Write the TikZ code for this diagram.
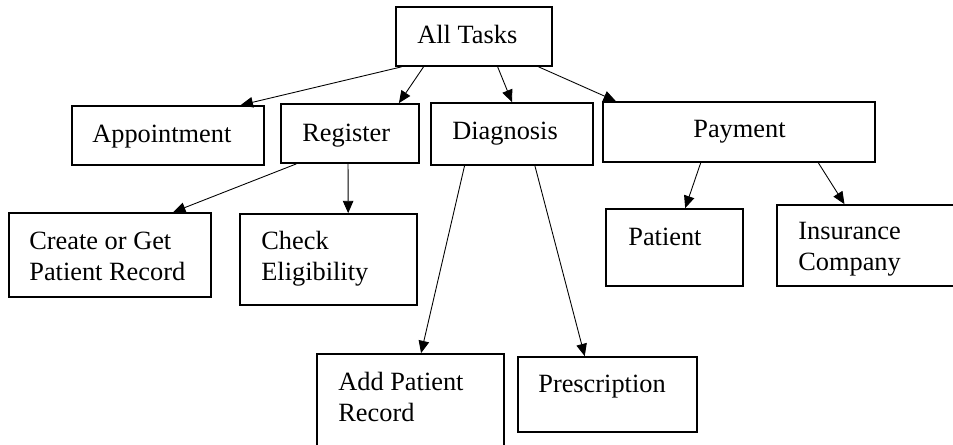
\documentclass[tikz,border=0pt]{standalone}
\usepackage{fontspec}
\setmainfont{Liberation Serif}
\usetikzlibrary{arrows.meta, calc}

\tikzset{
  task/.style={draw, line width=1pt, minimum height=1.18cm, inner sep=0pt},
  txt/.style={anchor=base west, inner sep=0pt, align=left, font=\fontsize{15}{17.6}\selectfont},
  link/.style={line width=0.5pt, -{Triangle[length=7pt, width=6pt]}}
}

\begin{document}
\begin{tikzpicture}[x=0.02cm, y=-0.02cm]
  \useasboundingbox (0,0) rectangle (953,444);

  % Top
  \node[task, minimum width=3.12cm] (all) at (474,36.5) {};
  \node[txt] (all-t) at (417,43) {All Tasks};

  % Second row
  \node[task, minimum width=3.84cm] (appt) at (168,135.5) {};
  \node[txt] (appt-t) at (92,142) {Appointment};
  \node[task, minimum width=2.76cm] (reg) at (350,133.5) {};
  \node[txt] (reg-t) at (302,141) {Register};
  \node[task, minimum width=3.24cm, minimum height=1.24cm] (diag) at (512,134) {};
  \node[txt] (diag-t) at (452,139) {Diagnosis};
  \node[task, minimum width=5.44cm, minimum height=1.2cm] (pay) at (739,132) {};
  \node[txt] (pay-t) at (693,137) {Payment};

  % Third row (base = last line)
  \node[task, minimum width=4.04cm, minimum height=1.68cm] (create) at (110,255) {};
  \node[txt] (create-t) at (29,280) {Create or Get\\Patient Record};
  \node[task, minimum width=3.54cm, minimum height=1.82cm] (check) at (328.5,259.5) {};
  \node[txt] (check-t) at (261,280) {Check\\Eligibility};
  \node[task, minimum width=2.74cm, minimum height=1.54cm] (patient) at (674.5,247.5) {};
  \node[txt] (patient-t) at (628,245) {Patient};
  \node[task, minimum width=3.66cm, minimum height=1.62cm] (insur) at (868.5,245.5) {};
  \node[txt] (insur-t) at (798,270) {Insurance\\Company};

  % Bottom row
  \node[task, minimum width=3.74cm, minimum height=1.96cm] (addrec) at (410.5,403) {};
  \node[txt] (addrec-t) at (338,421) {Add Patient\\Record};
  \node[task, minimum width=3.58cm, minimum height=1.5cm] (presc) at (607.5,394.5) {};
  \node[txt] (presc-t) at (538,392) {Prescription};

  % Arrows
  \draw[link] ($(all.south west)!0.04!(all.south east)$) -- ($(appt.north west)!0.875!(appt.north east)$);
  \draw[link] ($(all.south west)!0.18!(all.south east)$) -- ($(reg.north west)!0.85!(reg.north east)$);
  \draw[link] ($(all.south west)!0.65!(all.south east)$) -- ($(diag.north west)!0.5!(diag.north east)$);
  \draw[link] ($(all.south west)!0.91!(all.south east)$) -- ($(pay.north west)!0.05!(pay.north east)$);

  \draw[link] ($(reg.south west)!0.116!(reg.south east)$) -- ($(create.north west)!0.81!(create.north east)$);
  \draw[link] ($(reg.south west)!0.486!(reg.south east)$) -- ($(check.north west)!0.61!(check.north east)$);

  \draw[link] ($(diag.south west)!0.21!(diag.south east)$) -- ($(addrec.north west)!0.556!(addrec.north east)$);
  \draw[link] ($(diag.south west)!0.64!(diag.south east)$) -- ($(presc.north west)!0.374!(presc.north east)$);

  \draw[link] ($(pay.south west)!0.36!(pay.south east)$) -- ($(patient.north west)!0.577!(patient.north east)$);
  \draw[link] ($(pay.south west)!0.79!(pay.south east)$) -- ($(insur.north west)!0.37!(insur.north east)$);

\end{tikzpicture}
\end{document}
